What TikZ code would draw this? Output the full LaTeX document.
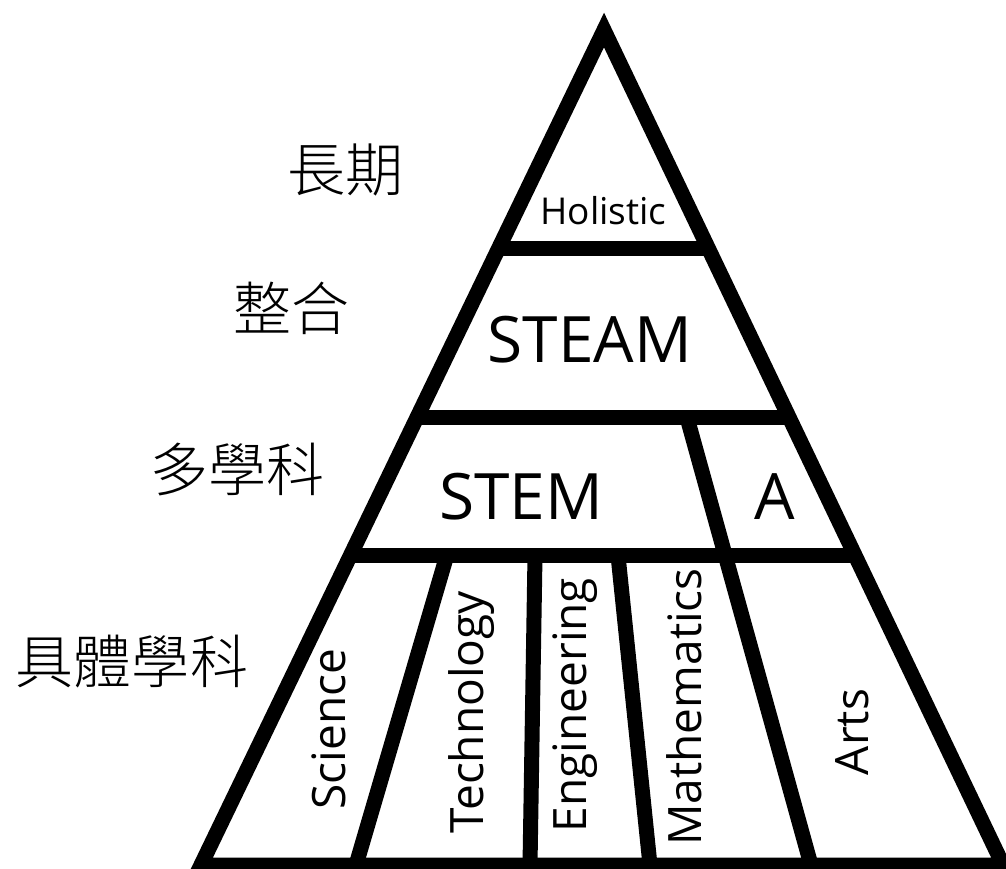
\documentclass[tikz,border=0pt]{standalone}
\usepackage{fontspec}
\setmainfont{Open Sans}
\IfFontExistsTF{Noto Sans CJK TC Light}
  {\newfontfamily\cjk{Noto Sans CJK TC Light}}
  {\newfontfamily\cjk{Noto Sans CJK TC}}
\usetikzlibrary{calc}
\begin{document}
\begin{tikzpicture}[x=1pt,y=1pt,
  edge/.style={line width=15pt, line join=miter, miter limit=10},
  cjklabel/.style={inner sep=0pt, font=\cjk\fontsize{58}{60}\selectfont},
  vlabel/.style={inner sep=0pt, anchor=base, rotate=90, font=\fontsize{46}{50}\selectfont},
  biglabel/.style={inner sep=0pt, anchor=base, font=\fontsize{64}{70}\selectfont}]
\useasboundingbox (0,0) rectangle (1006,-869);
\clip (0,0) rectangle (1006,-869);
% triangle corners
\coordinate (apex) at (604,-30);
\coordinate (bl) at (201,-865);
\coordinate (br) at (1003,-865);
% points on the legs
\coordinate (l1) at ($(apex)!0.2617!(bl)$);
\coordinate (r1) at ($(apex)!0.2617!(br)$);
\coordinate (l2) at ($(apex)!0.4641!(bl)$);
\coordinate (r2) at ($(apex)!0.4641!(br)$);
\coordinate (l3) at ($(apex)!0.6293!(bl)$);
\coordinate (r3) at ($(apex)!0.6293!(br)$);
% dividers
\coordinate (d1t) at (446.8,-555.5);
\coordinate (d1b) at (356,-865);
\coordinate (d2t) at (535,-555.5);
\coordinate (d2b) at (530,-865);
\coordinate (d3t) at (618,-555.5);
\coordinate (d3b) at (650,-865);
\coordinate (d4t) at (687,-417.5);
\coordinate (d4b) at (811,-865);
\draw[edge] (d1t) -- (d1b);
\draw[edge] (d2t) -- (d2b);
\draw[edge] (d3t) -- (d3b);
\draw[edge] (d4t) -- (d4b);
% horizontal levels
\draw[edge] (l1) -- (r1);
\draw[edge] (l2) -- (r2);
\draw[edge] (l3) -- (r3);
% outline
\draw[edge] (apex) -- (bl) -- (br) -- cycle;
% labels inside
\node[inner sep=0pt, anchor=base, font=\fontsize{37}{40}\selectfont] (holistic) at (603.5,-225) {Holistic};
\node[biglabel] (steam) at (590,-362) {STEAM};
\node[biglabel] (stem) at (521,-519) {STEM};
\node[biglabel] (a) at (775,-519) {A};
\node[vlabel] (science) at (345,-729) {Science};
\node[vlabel] (technology) at (483,-712) {Technology};
\node[vlabel] (engineering) at (586,-705) {Engineering};
\node[vlabel] (mathematics) at (701,-707) {Mathematics};
\node[vlabel] (arts) at (868,-732) {Arts};
% side labels
\node[cjklabel] (longterm) at (345,-170) {長期};
\node[cjklabel] (integrated) at (291,-308) {整合};
\node[cjklabel] (multi) at (237,-470) {多學科};
\node[cjklabel] (specific) at (132,-662) {具體學科};
\end{tikzpicture}
\end{document}
